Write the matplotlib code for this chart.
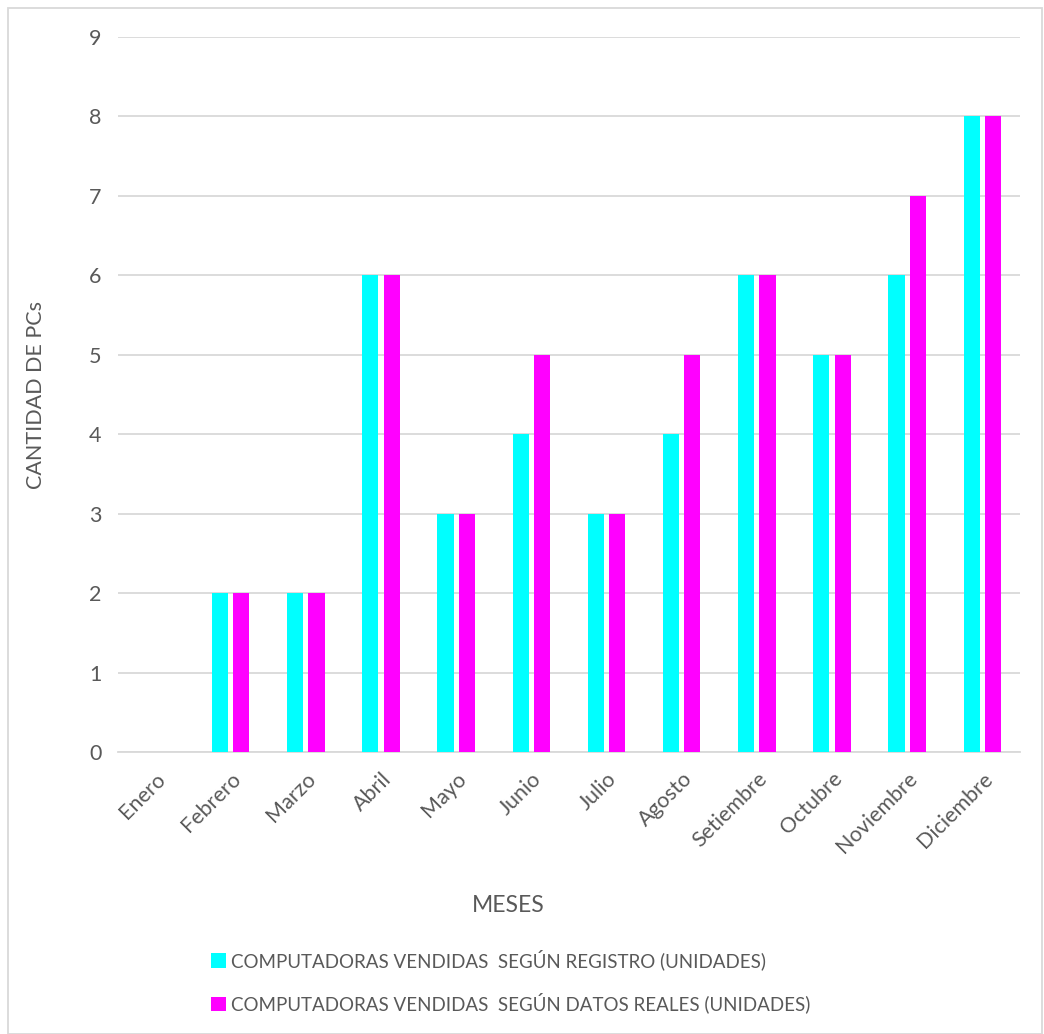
import matplotlib.pyplot as plt
import numpy as np
from matplotlib.patches import Rectangle

meses = ['Enero', 'Febrero', 'Marzo', 'Abril', 'Mayo', 'Junio', 'Julio',
         'Agosto', 'Setiembre', 'Octubre', 'Noviembre', 'Diciembre']
registro = [0, 2, 2, 6, 3, 4, 3, 4, 6, 5, 6, 8]
reales = [0, 2, 2, 6, 3, 5, 3, 5, 6, 5, 7, 8]

plt.rcParams['font.family'] = ['Lato', 'DejaVu Sans']
gris = '#595959'

fig = plt.figure(figsize=(10.44, 10.34), dpi=100)
ax = fig.add_axes([0.113, 0.2727, 0.864, 0.6915])

x = np.arange(len(meses))
w = 0.215
off = 0.142
ax.bar(x - off, registro, w, color='#00FFFF', label='COMPUTADORAS VENDIDAS  SEGÚN REGISTRO (UNIDADES)', zorder=3)
ax.bar(x + off, reales, w, color='#FF00FF', label='COMPUTADORAS VENDIDAS  SEGÚN DATOS REALES (UNIDADES)', zorder=3)

ax.set_xlim(-0.5, len(meses) - 0.5)
ax.set_ylim(0, 9)
ax.set_yticks(range(10))
ax.yaxis.grid(True, color='#D9D9D9', linewidth=1.3, zorder=0)
for s in ['top', 'right', 'left']:
    ax.spines[s].set_visible(False)
ax.spines['bottom'].set_color('#D9D9D9')
ax.spines['bottom'].set_linewidth(1.3)
ax.tick_params(axis='both', length=0, labelsize=15.5, labelcolor=gris, pad=12)
ax.set_xticks(x)
ax.set_xticklabels(meses, rotation=45, ha='right', rotation_mode='anchor')
ax.tick_params(axis='x', pad=12)

ax.set_xlabel('MESES', fontsize=16.5, color=gris)
ax.xaxis.set_label_coords(0.433, -0.2)
ax.set_ylabel('CANTIDAD DE PCs', fontsize=15.5, color=gris)
ax.yaxis.set_label_coords(-0.08, 0.5)

fig.legend(loc='center', bbox_to_anchor=(0.489, 0.051), ncol=1, frameon=False,
           fontsize=13.5, labelcolor=gris, handlelength=0.8, handleheight=0.8,
           handletextpad=0.3, labelspacing=1.2)

fig.patches.append(Rectangle((0.008, 0.0), 0.99, 0.992, transform=fig.transFigure,
                             fill=False, edgecolor='#D9D9D9', linewidth=1.3))

fig.savefig('out.png', dpi=100, facecolor='white')
